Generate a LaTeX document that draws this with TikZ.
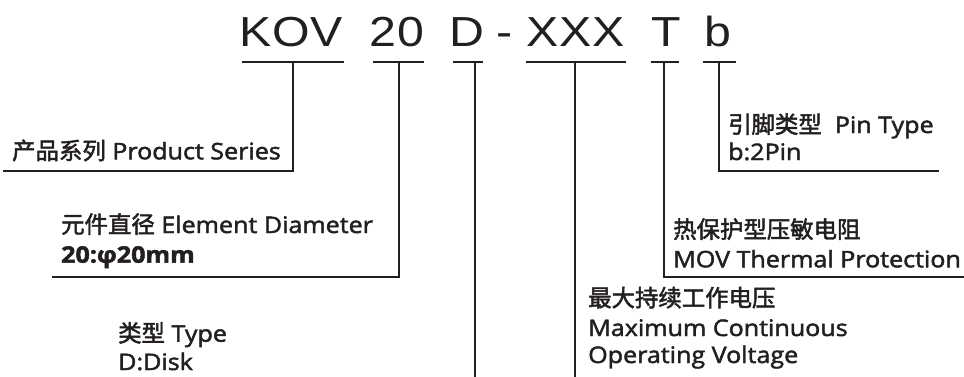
\documentclass[tikz,border=0pt]{standalone}
\usepackage{fontspec}
\setmainfont{Open Sans}[FakeStretch=1.1, FakeBold=2]
\newfontfamily\cjk{Noto Sans CJK SC}[FakeBold=2]
\newfontfamily\titlefont{Liberation Sans}[FakeStretch=1.15, LetterSpace=2]
\definecolor{ink}{HTML}{231F20}
\tikzset{
  partcode/.style={anchor=base, inner sep=0pt, text=ink, font=\titlefont\fontsize{42}{42}\selectfont},
  desc/.style={anchor=base west, inner sep=0pt, text=ink, font=\fontsize{22.8}{28}\selectfont},
  underline/.style={draw=ink, line width=1.2pt},
  leadline/.style={draw=ink, line width=1.4pt},
}
\begin{document}
\begin{tikzpicture}[x=1pt, y=-1pt]
    \useasboundingbox[fill=white] (0,0) rectangle (964,376);
    % model code
    \node[partcode] (kov) at (291,46) {KOV};
    \node[partcode] (dia) at (397,46) {20};
    \node[partcode] (typ) at (467,46) {D};
    \node[partcode] (dash) at (504.5,46) {-};
    \node[partcode] (volt) at (576,46) {XXX};
    \node[partcode] (thm) at (666.5,46) {T};
    \node[partcode] (pin) at (718,46) {b};
    \foreach \a/\b in {242/344, 373/424, 453/483, 526/626, 651/679, 703/736}
      \draw[underline] (\a,62) -- (\b,62);
    % taps and line ends
    \coordinate (kovtap) at (293,62);
    \coordinate (diatap) at (399,62);
    \coordinate (typtap) at (475,62);
    \coordinate (volttap) at (575,62);
    \coordinate (thmtap) at (664,62);
    \coordinate (pintap) at (719,62);
    \coordinate (prodend) at (3,171);
    \coordinate (diaend) at (52,277);
    \coordinate (typend) at (475,377);
    \coordinate (voltend) at (575,377);
    \coordinate (thmend) at (964,277);
    \coordinate (pinend) at (939,171);
    % labels
    \node[desc] (prod) at (12,159.3) {{\cjk\fontsize{23.4}{28}\selectfont 产品系列} Product Series};
    \node[desc] (diam) at (61,233) {{\cjk\fontsize{23.4}{28}\selectfont 元件直径} Element Diameter};
    \node[desc, font=\fontsize{22.8}{28}\selectfont\bfseries] (diamv) at (61,262.7) {20:φ20mm};
    \node[desc] (type) at (118,341.7) {{\cjk\fontsize{23.4}{28}\selectfont 类型} Type};
    \node[desc] (typev) at (118,370) {D:Disk};
    \node[desc] (mcov) at (588,306.5) {\cjk\fontsize{23.4}{28}\selectfont 最大持续工作电压};
    \node[desc] (mcovb) at (588,336) {Maximum Continuous};
    \node[desc] (mcovc) at (588,363) {Operating Voltage};
    \node[desc] (therm) at (673,238) {\cjk\fontsize{23.4}{28}\selectfont 热保护型压敏电阻};
    \node[desc] (thermb) at (673,267.3) {MOV Thermal Protection};
    \node[desc] (pint) at (728,133) {{\cjk\fontsize{23.4}{28}\selectfont 引脚类型}\ \ Pin Type};
    \node[desc] (pinv) at (728,160) {b:2Pin};
    % leader lines
    \draw[leadline] (kovtap) |- (prodend);
    \draw[leadline] (diatap) |- (diaend);
    \draw[leadline] (typtap) -- (typend);
    \draw[leadline] (volttap) -- (voltend);
    \draw[leadline] (thmtap) |- (thmend);
    \draw[leadline] (pintap) |- (pinend);
\end{tikzpicture}
\end{document}
